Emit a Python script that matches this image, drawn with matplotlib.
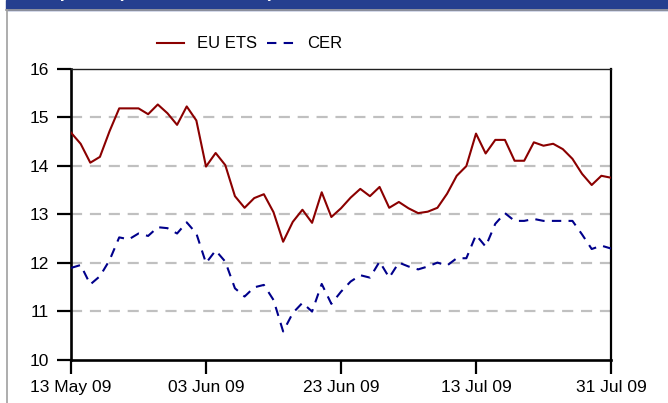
import numpy as np
import matplotlib
matplotlib.use("Agg")
import matplotlib.pyplot as plt
from matplotlib.lines import Line2D
from matplotlib.patches import Rectangle

plt.rcParams['font.family'] = ['Liberation Sans', 'DejaVu Sans']

# Daily prices, EUR/tCO2 (trading days 13 May 09 - 31 Jul 09)
eu_ets = [14.68, 14.45, 14.06, 14.18, 14.71, 15.18, 15.18, 15.18, 15.06, 15.26,
          15.08, 14.84, 15.22, 14.93, 13.98, 14.26, 14.01, 13.37, 13.13, 13.33,
          13.41, 13.04, 12.43, 12.84, 13.09, 12.82, 13.45, 12.94, 13.12, 13.34,
          13.52, 13.37, 13.56, 13.13, 13.25, 13.12, 13.02, 13.05, 13.13, 13.42,
          13.79, 13.99, 14.66, 14.25, 14.53, 14.53, 14.10, 14.10, 14.48, 14.41,
          14.45, 14.34, 14.14, 13.83, 13.60, 13.79, 13.75]
cer = [11.89, 11.95, 11.55, 11.72, 12.05, 12.52, 12.48, 12.60, 12.55, 12.73,
       12.71, 12.60, 12.83, 12.60, 11.99, 12.25, 12.02, 11.47, 11.30, 11.49,
       11.54, 11.23, 10.58, 10.96, 11.17, 10.99, 11.56, 11.15, 11.40, 11.61,
       11.74, 11.69, 12.02, 11.69, 12.00, 11.92, 11.86, 11.92, 12.00, 11.94,
       12.09, 12.09, 12.57, 12.33, 12.80, 13.02, 12.86, 12.86, 12.90, 12.86,
       12.86, 12.86, 12.86, 12.58, 12.28, 12.35, 12.29]
tick_idx = [0, 14, 28, 42, 56]
tick_labels = ['13 May 09', '03 Jun 09', '23 Jun 09', '13 Jul 09', '31 Jul 09']

x = np.arange(len(eu_ets))

fig = plt.figure(figsize=(6.68, 4.03), dpi=100)

# header bar (title text sits mostly above the top edge, as in the source crop)
fig.patches.append(Rectangle((6 / 668, 1 - 9.5 / 403), 1, 9.5 / 403,
                             transform=fig.transFigure, color='#253f8f', zorder=0))
fig.add_artist(Line2D([6 / 668, 1], [1 - 10 / 403] * 2, color='#a0a0a0', lw=1.2))
fig.add_artist(Line2D([6.5 / 668] * 2, [0, 1 - 10 / 403], color='#a0a0a0', lw=1.2))
fig.text(274 / 668, 1 + 3 / 403, 'EU ETS and CER prices (Dec 09 contracts)',
         color='white', fontsize=13, ha='right', va='baseline', fontweight='bold')
fig.text(662 / 668, 1 + 3 / 403, 'EUR/tCO$_2$', color='white',
         fontsize=13, ha='right', va='baseline', fontweight='bold')

ax = fig.add_axes([71 / 668, 1 - 359.6 / 403, 540 / 668, (359.6 - 68.6) / 403])

for v in [11, 12, 13, 14, 15]:
    ax.axhline(v, color='#c0c0c0', lw=1.6, dashes=(5, 3.5), zorder=1)

ax.plot(x, eu_ets, color='#8b0000', lw=1.5, label='EU ETS', zorder=3)
ax.plot(x, cer, color='#00008b', lw=1.5, dashes=(4.5, 3.5), label='CER', zorder=3)

ax.set_xlim(0, 56)
ax.set_ylim(10, 16)
ax.set_yticks([10, 11, 12, 13, 14, 15, 16])
ax.set_xticks(tick_idx)
ax.set_xticklabels(tick_labels)
ax.tick_params(axis='both', direction='out', length=10, width=1.6,
               labelsize=12.5, colors='black')
ax.tick_params(axis='y', pad=6)
ax.tick_params(axis='x', pad=5)

ax.spines['left'].set_linewidth(1.9)
ax.spines['bottom'].set_linewidth(1.9)
ax.spines['right'].set_linewidth(1.6)
ax.spines['top'].set_linewidth(1.0)
ax.spines['top'].set_color('#202020')

fig.legend(loc='center', bbox_to_anchor=(250 / 668, 1 - 44 / 403), ncol=2,
           frameon=False, fontsize=12, handlelength=1.6, handletextpad=0.8,
           columnspacing=0.6)

fig.savefig('out.png', dpi=100)
